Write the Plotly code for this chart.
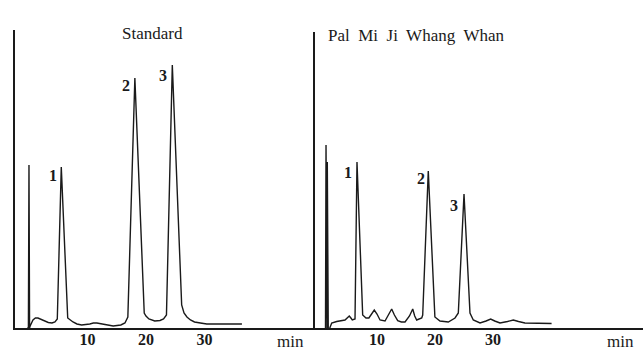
import plotly.graph_objects as go

# ---- Data (retention time in min, detector response in arbitrary units) ----
std_time = [-0.3, -0.1, 0.0, 0.1, 0.2, 0.68, 1.1, 1.54, 2.0, 2.56, 3.3, 3.93, 4.44, 4.84,
            5.52, 6.62, 7.0, 7.52, 8.2, 9.0, 10.4, 11.0, 11.6, 12.3, 13.0, 14.4, 15.7,
            16.4, 16.9, 18.1, 19.7, 20.0, 20.5, 21.5, 22.4, 23.0, 23.5, 24.5, 26.1,
            26.5, 27.0, 27.6, 28.3, 29.3, 30.4, 36.4]
std_resp = [0, 0, 163, 0, 2, 8, 10, 10, 9, 7, 5.5, 5, 6, 9,
            161, 10, 8, 6, 4, 3, 4, 5, 5, 4.5, 3.5, 2, 3,
            5, 11, 250, 15, 12, 9, 7, 7.5, 9, 13, 263, 23,
            15, 11, 8, 6, 5, 4, 4]

smp_time = [1.0, 1.12, 1.21, 1.31, 1.38, 1.43, 1.52, 1.60, 2.19, 3.05, 4.48, 4.9, 5.22,
            5.5, 5.74, 6.21, 6.55, 7.53, 8.1, 8.6, 9.05, 9.53, 10.0, 10.52, 11.38, 12.05,
            12.53, 13.0, 13.57, 14.2, 14.83, 15.6, 16.16, 16.5, 16.84, 17.71, 17.88, 18.84,
            19.98, 20.86, 22.29, 23.45, 24.02, 25.0, 26.03, 26.6, 27.76, 28.8, 29.6, 30.3,
            31.2, 32.5, 33.5, 34.4, 35.5, 40.1]
smp_resp = [0, 0, 183, 0, 0, 166, 0, -4, 5, 6.5, 8, 10, 12,
            10, 8, 9, 166, 13, 10, 10, 14, 18, 14, 8, 7, 14,
            19, 13, 7.3, 6, 6, 12, 19, 12, 8, 10, 13, 157,
            11, 7, 6, 10, 15, 134, 15, 8, 5, 7, 9, 7,
            5, 6.5, 8, 6.5, 5, 4.5]

peak_names = ["1", "2", "3"]
std_label_t = [4.1, 16.6, 22.9]
std_label_y = [153, 243, 253]
smp_label_t = [5.05, 17.6, 23.2]
smp_label_y = [156, 150, 123]

tick_vals = [10, 20, 30]
tick_text = ["10", "20", "30"]

W, H = 643, 352
SERIF = "Liberation Serif"
INK = "#1a1a1a"

fig = go.Figure()
fig.add_trace(go.Scatter(x=std_time, y=std_resp, mode="lines",
                         line=dict(color=INK, width=1.4), xaxis="x", yaxis="y",
                         showlegend=False, hoverinfo="skip"))
fig.add_trace(go.Scatter(x=smp_time, y=smp_resp, mode="lines",
                         line=dict(color=INK, width=1.4), xaxis="x2", yaxis="y2",
                         showlegend=False, hoverinfo="skip"))

def px_x(p):
    return p / W

def px_y(p):
    return (H - p) / H

xcommon = dict(showgrid=False, zeroline=False, showline=True, linecolor=INK, linewidth=1.5,
               ticks="", tickvals=tick_vals, ticktext=tick_text, ticklabelstandoff=-4,
               tickfont=dict(family=SERIF, size=16, color=INK, weight="bold"))
ycommon = dict(showgrid=False, zeroline=False, showline=True, linecolor=INK, linewidth=2,
               showticklabels=False, ticks="")

fig.update_layout(
    width=W, height=H,
    margin=dict(l=0, r=0, t=0, b=0),
    paper_bgcolor="white", plot_bgcolor="white",
    hovermode=False,
    xaxis=dict(domain=[px_x(15), px_x(315)], range=[-2.39, 48.89], anchor="y", **xcommon),
    yaxis=dict(domain=[px_y(328), px_y(30)], range=[0, 298], anchor="x", **ycommon),
    xaxis2=dict(domain=[px_x(315), 1.0], range=[-0.69, 55.86], anchor="y2", **xcommon),
    yaxis2=dict(domain=[px_y(328), px_y(32)], range=[0, 296], anchor="x2", **ycommon),
)

ann = []
for n, t, y in zip(peak_names, std_label_t, std_label_y):
    ann.append(dict(x=t, y=y, xref="x", yref="y", text=n, showarrow=False,
                    font=dict(family=SERIF, size=16, color=INK, weight="bold")))
for n, t, y in zip(peak_names, smp_label_t, smp_label_y):
    ann.append(dict(x=t, y=y, xref="x2", yref="y2", text=n, showarrow=False,
                    font=dict(family=SERIF, size=16, color=INK, weight="bold")))

ann.append(dict(x=px_x(152), y=px_y(33), xref="paper", yref="paper", text="Standard",
                showarrow=False, xanchor="center", yanchor="middle",
                font=dict(family=SERIF, size=17, color=INK)))
ann.append(dict(x=px_x(326), y=px_y(35), xref="paper", yref="paper",
                text="Pal  Mi  Ji  Whang  Whan",
                showarrow=False, xanchor="left", yanchor="middle",
                font=dict(family=SERIF, size=17, color=INK)))
for cx in (290, 620):
    ann.append(dict(x=px_x(cx), y=px_y(341), xref="paper", yref="paper", text="min",
                    showarrow=False, xanchor="center", yanchor="middle",
                    font=dict(family=SERIF, size=17, color=INK)))

fig.update_layout(annotations=ann)
fig.write_html("out.html", config={"displayModeBar": False},
               post_script="document.body.style.margin='0';")
